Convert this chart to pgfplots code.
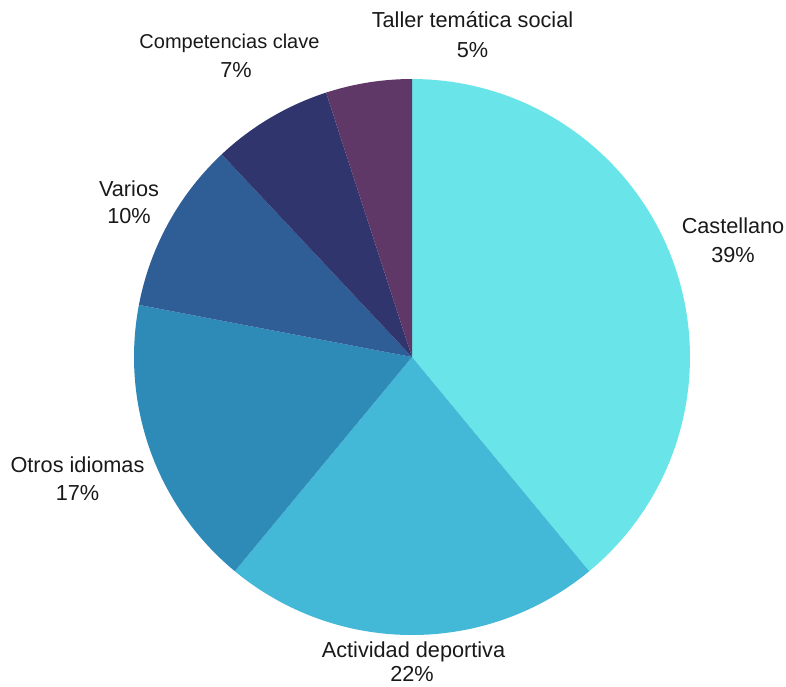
\documentclass[border=0pt]{standalone}
\usepackage{pgfplots}
\pgfplotsset{compat=1.18}
\usepackage{fontspec}
\setmainfont{Liberation Sans}
\definecolor{cCast}{HTML}{69E4E9}
\definecolor{cAct}{HTML}{43B8D7}
\definecolor{cOtr}{HTML}{2E8BB8}
\definecolor{cVar}{HTML}{2F5E97}
\definecolor{cCom}{HTML}{30356D}
\definecolor{cTal}{HTML}{5F3868}
% shares in percent
\def\vCast{39}\def\vAct{22}\def\vOtr{17}\def\vVar{10}\def\vCom{7}\def\vTal{5}
\begin{document}
\begin{tikzpicture}
\pgfmathsetmacro{\aA}{90}
\pgfmathsetmacro{\aB}{\aA-3.6*\vCast}
\pgfmathsetmacro{\aC}{\aB-3.6*\vAct}
\pgfmathsetmacro{\aD}{\aC-3.6*\vOtr}
\pgfmathsetmacro{\aE}{\aD-3.6*\vVar}
\pgfmathsetmacro{\aF}{\aE-3.6*\vCom}
\pgfmathsetmacro{\aG}{\aF-3.6*\vTal}
\begin{axis}[
  x=278bp, y=278bp,
  xmin=-1.4820, xmax=1.3453, ymin=-1.1835, ymax=1.2842,
  hide axis, clip=false,
  every axis plot/.append style={draw=none, samples=90, variable=\t},
]
\path (rel axis cs:0,0) rectangle (rel axis cs:1,1);
\addplot[fill=cCast, domain=\aB:\aA] ({cos(\t)},{sin(\t)}) -- (axis cs:0,0) -- cycle;
\addplot[fill=cAct, domain=\aC:\aB] ({cos(\t)},{sin(\t)}) -- (axis cs:0,0) -- cycle;
\addplot[fill=cOtr, domain=\aD:\aC] ({cos(\t)},{sin(\t)}) -- (axis cs:0,0) -- cycle;
\addplot[fill=cVar, domain=\aE:\aD] ({cos(\t)},{sin(\t)}) -- (axis cs:0,0) -- cycle;
\addplot[fill=cCom, domain=\aF:\aE] ({cos(\t)},{sin(\t)}) -- (axis cs:0,0) -- cycle;
\addplot[fill=cTal, domain=\aG:\aF] ({cos(\t)},{sin(\t)}) -- (axis cs:0,0) -- cycle;
\tikzset{lbl/.style={anchor=base, inner sep=0pt, font=\fontsize{21.7bp}{25bp}\selectfont, text=black!90},
  lbls/.style={lbl, font=\fontsize{20bp}{24bp}\selectfont}}
\node[lbl] at (axis cs:0.2176,1.1835) {Taller temática social};
\node[lbl] at (axis cs:0.2176,1.0791) {5\%};
\node[lbls] at (axis cs:-0.6565,1.1115) {Competencias clave};
\node[lbl] at (axis cs:-0.6331,1.0036) {7\%};
\node[lbl] at (axis cs:-1.018,0.5791) {Varios};
\node[lbl] at (axis cs:-1.018,0.4820) {10\%};
\node[lbl] at (axis cs:1.1547,0.4460) {Castellano};
\node[lbl] at (axis cs:1.1547,0.3417) {39\%};
\node[lbl] at (axis cs:-1.2032,-0.4137) {Otros idiomas};
\node[lbl] at (axis cs:-1.2032,-0.5144) {17\%};
\node[lbl] at (axis cs:0.0054,-1.0791) {Actividad deportiva};
\node[lbl] at (axis cs:0.0000,-1.1690) {22\%};
\end{axis}
\end{tikzpicture}
\end{document}
